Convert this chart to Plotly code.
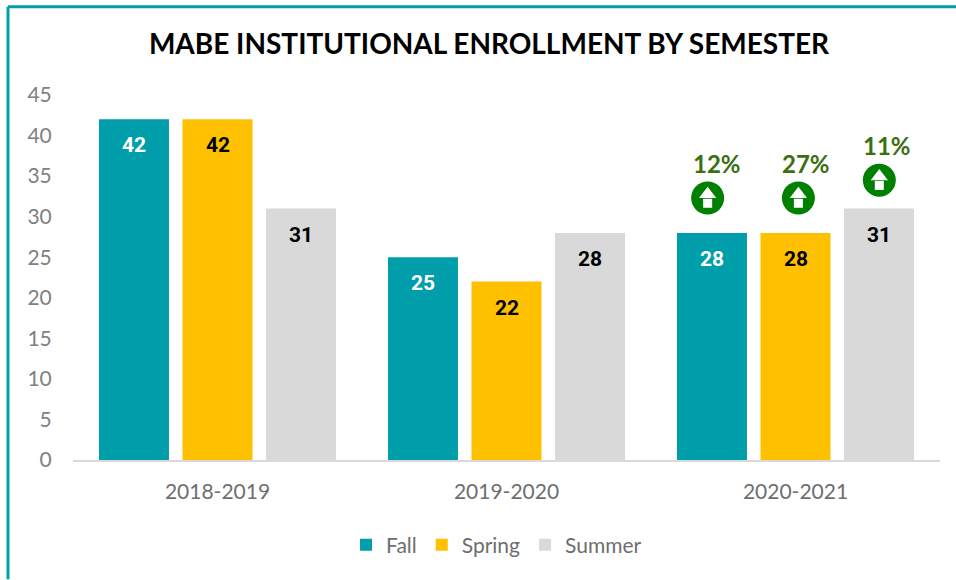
import plotly.graph_objects as go

title = "MABE INSTITUTIONAL ENROLLMENT BY SEMESTER"
years = ["2018-2019", "2019-2020", "2020-2021"]
fall = [42, 25, 28]
spring = [42, 22, 28]
summer = [31, 28, 31]
yticks = [0, 5, 10, 15, 20, 25, 30, 35, 40, 45]

badge_x = [1.696, 2.01, 2.29]
badge_y = [32.3, 32.3, 34.5]
pct_labels = ["12%", "27%", "11%"]
pct_x = [1.727, 2.036, 2.315]
pct_y = [36.6, 36.6, 38.8]

series = [("Fall", fall, "#009DAA", "white", -0.289),
          ("Spring", spring, "#FFC000", "black", 0.0),
          ("Summer", summer, "#D9D9D9", "black", 0.289)]
idx = list(range(len(years)))

fig = go.Figure()
for name, vals, col, _, _ in series:
    fig.add_bar(x=idx, y=vals, name=name, marker=dict(color=col, line_width=0), hoverinfo="skip")

fig.add_scatter(x=badge_x, y=badge_y, mode="markers", showlegend=False, hoverinfo="skip", cliponaxis=False,
                marker=dict(symbol="circle", size=33, color="#008000", line_width=0))
fig.add_scatter(x=badge_x, y=[v + 0.45 for v in badge_y], mode="markers", showlegend=False, hoverinfo="skip",
                marker=dict(symbol="triangle-up", size=15, color="white", line_width=0))
fig.add_scatter(x=badge_x, y=[v - 0.65 for v in badge_y], mode="markers", showlegend=False, hoverinfo="skip",
                marker=dict(symbol="square", size=9, color="white", line_width=0))

annotations = []
for name, vals, col, tcol, off in series:
    for i, v in enumerate(vals):
        annotations.append(dict(x=i + off, y=v, xref="x", yref="y", yshift=-26, text=str(v), showarrow=False,
                                font=dict(family="Roboto, sans-serif", size=21, color=tcol, weight="bold")))
for x, y, t in zip(pct_x, pct_y, pct_labels):
    annotations.append(dict(x=x, y=y, xref="x", yref="y", text=t, showarrow=False,
                            font=dict(family="Lato, sans-serif", size=24, color="#3A7010", weight="bold")))

fig.update_layout(
    width=956, height=580, autosize=False,
    paper_bgcolor="white", plot_bgcolor="white",
    barmode="group", bargap=0.133, bargroupgap=0.162,
    margin=dict(l=73, r=16, t=94.5, b=119.5),
    title=dict(text=title, x=489 / 956, xanchor="center", y=1 - 44 / 580, yanchor="middle",
               font=dict(family="Lato, sans-serif", size=28, color="black", weight="bold")),
    font=dict(family="Lato, sans-serif", color="#7A7A7A"),
    xaxis=dict(tickmode="array", tickvals=idx, ticktext=years, range=[-0.5, 2.5],
               showgrid=False, zeroline=False, showline=True, linecolor="#D9D9D9", linewidth=2,
               ticks="outside", ticklen=12, tickcolor="rgba(0,0,0,0)", tickfont=dict(size=21, color="#6E6E6E")),
    yaxis=dict(tickmode="array", tickvals=yticks, range=[0, 45],
               showgrid=False, zeroline=False, showline=False,
               ticks="outside", ticklen=16, tickcolor="rgba(0,0,0,0)", tickfont=dict(size=21, color="#808080")),
    legend=dict(orientation="h", x=467 / 956, xanchor="center", y=1 - 545 / 580, yref="container", yanchor="middle",
                font=dict(size=21, color="#6E6E6E"), itemwidth=30),
    annotations=annotations,
    shapes=[
        dict(type="line", xref="paper", yref="paper", x0=-65 / 867, x1=-65 / 867, y0=-119.5 / 366, y1=88.5 / 366 + 1,
             line=dict(color="#00A0AA", width=3)),
        dict(type="line", xref="paper", yref="paper", x0=-65 / 867, x1=883 / 867, y0=88.5 / 366 + 1, y1=88.5 / 366 + 1,
             line=dict(color="#00A0AA", width=3)),
    ],
)
fig.write_html("out.html", config={"displayModeBar": False},
               post_script="document.body.style.margin='0';document.documentElement.style.overflow='hidden';")
